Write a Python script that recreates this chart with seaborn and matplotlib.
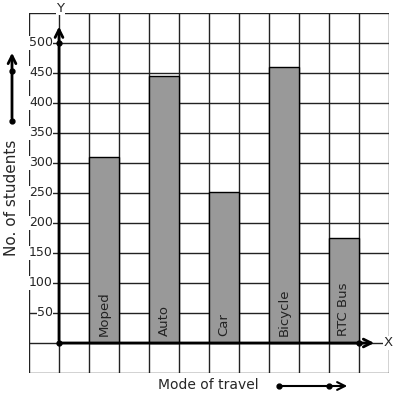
import matplotlib
matplotlib.use("Agg")
import matplotlib.pyplot as plt
import seaborn as sns
import pandas as pd

modes = ["Moped", "Auto", "Car", "Bicycle", "RTC Bus"]
students = [310, 445, 252, 460, 175]
yticks = [50, 100, 150, 200, 250, 300, 350, 400, 450, 500]

df = pd.DataFrame({"mode": modes, "students": students})

sns.set_style("white")
plt.rcParams["font.family"] = ["DejaVu Sans"]

W, H = 397, 399
fig = plt.figure(figsize=(W / 100, H / 100), dpi=100)
ax = fig.add_axes([29 / W, (H - 373) / H, 360 / W, 360 / H])

sns.barplot(data=df, x="mode", y="students", color="#999999", width=0.5,
            edgecolor="black", linewidth=1.0, saturation=1, ax=ax, zorder=3)

xl, xr = -1.25, 4.75
ax.set_xlim(xl, xr)
ax.set_ylim(-50, 550)

# grid
for k in range(13):
    ax.axvline(xl + 0.5 * k, color="#222222", lw=1.0, zorder=1)
    ax.axhline(-50 + 50 * k, color="#222222", lw=1.0, zorder=1)

for s in ax.spines.values():
    s.set_visible(False)
ax.set_xticks([])
ax.set_yticks([])
ax.set_xlabel("")
ax.set_ylabel("")

yax = xl + 0.5
# axes
ax.annotate("", xy=(yax, 532), xytext=(yax, 0),
            arrowprops=dict(arrowstyle="->", lw=2, color="black", mutation_scale=14),
            annotation_clip=False, zorder=6)
ax.annotate("", xy=(4.55, 0), xytext=(yax, 0),
            arrowprops=dict(arrowstyle="->", lw=2, color="black", mutation_scale=14),
            annotation_clip=False, zorder=6)
ax.plot([yax, yax, 4.25], [0, 500, 0], "o", color="black", ms=3.5, zorder=7, clip_on=False)
ax.text(yax + 0.02, 558, "Y", ha="center", va="center", fontsize=9.5,
        bbox=dict(facecolor="white", edgecolor="none", pad=0.5), zorder=8, clip_on=False)
ax.text(4.73, 0, "X", ha="center", va="center", fontsize=9.5,
        bbox=dict(facecolor="white", edgecolor="none", pad=0.5), zorder=8, clip_on=False)

for v in yticks:
    ax.text(yax - 0.1, v, str(v), ha="right", va="center", fontsize=9,
            bbox=dict(facecolor="white", edgecolor="none", pad=0.3), zorder=5)

for i, m in enumerate(modes):
    ax.text(i, 12, m, rotation=90, ha="center", va="bottom", fontsize=9.5,
            color="#222222", zorder=5)

# side labels
fig.text(12 / W, 1 - 198 / H, "No. of students", rotation=90, ha="center", va="center", fontsize=11)
fig.text(208 / W, 1 - 385 / H, "Mode of travel", ha="center", va="center", fontsize=10)

fig.patches.append(matplotlib.patches.FancyArrowPatch(
    (12 / W, 1 - 121 / H), (12 / W, 1 - 50 / H), transform=fig.transFigure,
    arrowstyle="->", lw=2, color="black", mutation_scale=14))
fig.lines.append(matplotlib.lines.Line2D([12 / W, 12 / W], [1 - 121 / H, 1 - 71 / H],
                                         transform=fig.transFigure, marker="o", ms=3.5,
                                         lw=0, color="black"))
fig.patches.append(matplotlib.patches.FancyArrowPatch(
    (279 / W, 1 - 386 / H), (350 / W, 1 - 386 / H), transform=fig.transFigure,
    arrowstyle="->", lw=1.5, color="black", mutation_scale=14))
fig.lines.append(matplotlib.lines.Line2D([279 / W, 329 / W], [1 - 386 / H, 1 - 386 / H],
                                         transform=fig.transFigure, marker="o", ms=3.5,
                                         lw=0, color="black"))

fig.savefig("out.png", dpi=100, facecolor="white")
